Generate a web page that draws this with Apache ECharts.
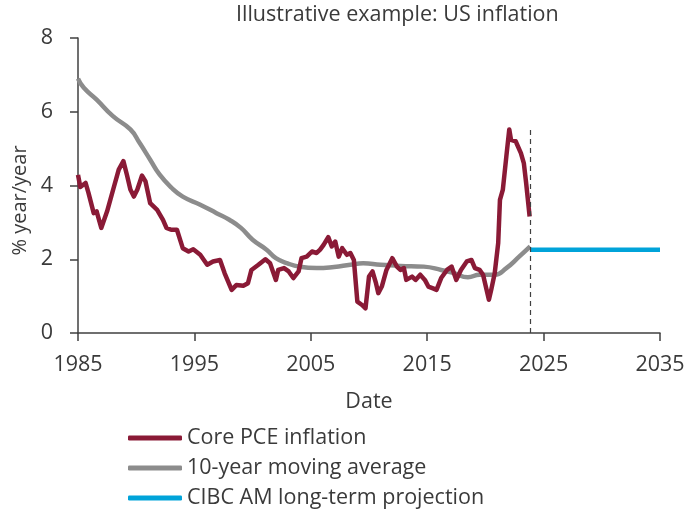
<!DOCTYPE html>
<html>
<head>
<meta charset="utf-8">
<script src="https://cdn.jsdelivr.net/npm/echarts@6/dist/echarts.min.js"></script>
<style>
html, body { margin: 0; padding: 0; background: #fff; }
#chart { width: 688px; height: 511px; }
</style>
</head>
<body>
<div id="chart"></div>
<script>
// core PCE, % year/year
var pceYears = [1985.0, 1985.2, 1985.65, 1985.9, 1986.35, 1986.6, 1987.0, 1987.5, 1988.1, 1988.5, 1988.9, 1989.2, 1989.5, 1989.8,
    1990.1, 1990.5, 1990.8, 1991.2, 1991.8, 1992.3, 1992.6, 1993.0, 1993.5, 1994.0, 1994.5, 1994.9, 1995.5, 1996.1, 1996.6,
    1997.2, 1997.6, 1998.2, 1998.6, 1999.2, 1999.6, 1999.9, 2000.5, 2001.1, 2001.5, 2002.0, 2002.2, 2002.7, 2003.1, 2003.5,
    2003.95, 2004.2, 2004.65, 2005.1, 2005.5, 2005.8, 2006.1, 2006.5, 2006.8, 2007.1, 2007.4, 2007.7, 2008.1, 2008.4, 2008.7,
    2009.0, 2009.4, 2009.7, 2010.0, 2010.3, 2010.6, 2010.8, 2011.1, 2011.5, 2012.0, 2012.4, 2012.7, 2013.0, 2013.2, 2013.7,
    2014.0, 2014.4, 2014.8, 2015.1, 2015.5, 2015.8, 2016.2, 2016.7, 2017.1, 2017.5, 2017.9, 2018.4, 2018.8, 2019.1, 2019.5,
    2019.8, 2020.1, 2020.3, 2020.5, 2020.8, 2021.1, 2021.25, 2021.5, 2021.8, 2022.05, 2022.2, 2022.6, 2023.05, 2023.3, 2023.5, 2023.8];
var pceValues = [4.29, 3.96, 4.07, 3.8, 3.25, 3.3, 2.85, 3.3, 3.98, 4.43, 4.66, 4.29, 3.89, 3.7,
    3.89, 4.27, 4.11, 3.52, 3.34, 3.07, 2.85, 2.8, 2.8, 2.3, 2.21, 2.27, 2.12, 1.85, 1.94,
    1.98, 1.62, 1.17, 1.3, 1.28, 1.35, 1.71, 1.85, 2.0, 1.89, 1.44, 1.71, 1.76, 1.67, 1.49,
    1.67, 2.03, 2.07, 2.21, 2.17, 2.26, 2.39, 2.6, 2.35, 2.48, 2.07, 2.3, 2.12, 2.17, 1.98,
    0.85, 0.76, 0.67, 1.53, 1.67, 1.35, 1.08, 1.26, 1.71, 2.03, 1.8, 1.71, 1.76, 1.44, 1.53,
    1.44, 1.58, 1.44, 1.26, 1.21, 1.17, 1.49, 1.71, 1.8, 1.44, 1.71, 1.94, 1.98, 1.76, 1.71,
    1.58, 1.17, 0.9, 1.17, 1.62, 2.44, 3.61, 3.89, 4.79, 5.52, 5.24, 5.2, 4.88, 4.61, 4.07, 3.16];

// 10年移动平均
var avgYears = [1985.0, 1985.5, 1986.6, 1988.0, 1989.5, 1990.3, 1991.2, 1992.0, 1993.0, 1994.0, 1995.5, 1996.9, 1998.0, 1999.0,
    2000.0, 2001.2, 2002.0, 2003.0, 2004.0, 2005.5, 2007.0, 2008.4, 2009.5, 2011.0, 2012.7, 2014.7, 2016.2, 2017.3, 2018.5,
    2019.5, 2020.8, 2021.8, 2022.9, 2023.85];
var avgValues = [6.9, 6.65, 6.33, 5.88, 5.52, 5.15, 4.7, 4.3, 3.95, 3.7, 3.48, 3.25, 3.07, 2.85,
    2.53, 2.26, 2.03, 1.89, 1.8, 1.76, 1.79, 1.85, 1.89, 1.85, 1.82, 1.8, 1.71, 1.62, 1.51,
    1.58, 1.58, 1.76, 2.07, 2.35];

// 长期预测
var projYears = [2023.85, 2035];
var projValues = [2.26, 2.26];
var projectionStart = 2023.85;
var dashTop = 5.6;

var xTicks = [1985, 1995, 2005, 2015, 2025, 2035];
var yTicks = [0, 2, 4, 6, 8];

function pairs(xs, ys) {
    var out = [];
    for (var i = 0; i < xs.length; i++) {
        out.push([xs[i], ys[i]]);
    }
    return out;
}

var font = 'Open Sans';
var textColor = '#3a3a3a';
var axisColor = '#404040';
var fs = 21.5;

var chart = echarts.init(document.getElementById('chart'));
var option = {
    animation: false,
    title: {
        text: 'Illustrative example: US inflation',
        left: 236,
        top: 4,
        padding: 0,
        textStyle: { fontFamily: font, fontSize: fs, fontWeight: 'normal', color: textColor }
    },
    grid: { left: 78, right: 28, top: 38, bottom: 178 },
    legend: {
        orient: 'vertical',
        left: 128,
        top: 426,
        height: 90,
        padding: 0,
        itemWidth: 54,
        itemHeight: 5,
        itemGap: 6,
        icon: 'roundRect',
        textStyle: { fontFamily: font, fontSize: fs, color: textColor, lineHeight: 24 },
        data: ['Core PCE inflation', '10-year moving average', 'CIBC AM long-term projection']
    },
    xAxis: {
        type: 'value',
        min: xTicks[0],
        max: xTicks[xTicks.length - 1],
        interval: 10,
        name: 'Date',
        nameLocation: 'middle',
        nameGap: 58,
        nameTextStyle: { fontFamily: font, fontSize: fs, color: textColor },
        axisLine: { lineStyle: { color: axisColor, width: 1.5 } },
        axisTick: { show: true, length: 8, lineStyle: { color: axisColor, width: 1.5 } },
        axisLabel: { fontFamily: font, fontSize: fs, color: textColor, margin: 21,
            formatter: function (v) { return String(v); } },
        splitLine: { show: false }
    },
    yAxis: {
        type: 'value',
        min: yTicks[0],
        max: yTicks[yTicks.length - 1],
        interval: 2,
        name: '% year/year',
        nameLocation: 'middle',
        nameGap: 46,
        nameTextStyle: { fontFamily: font, fontSize: 20, color: textColor, padding: [0, 30, 0, 0] },
        axisLine: { show: true, lineStyle: { color: axisColor, width: 1.5 } },
        axisTick: { show: true, length: 8, lineStyle: { color: axisColor, width: 1.5 } },
        axisLabel: { fontFamily: font, fontSize: fs, color: textColor, margin: 25 },
        splitLine: { show: false }
    },
    series: [
        {
            name: '10-year moving average',
            type: 'line',
            data: pairs(avgYears, avgValues),
            smooth: true,
            showSymbol: false,
            lineStyle: { color: '#8c8c8c', width: 4.5 },
            itemStyle: { color: '#8c8c8c' },
            z: 2
        },
        {
            name: 'Core PCE inflation',
            type: 'line',
            data: pairs(pceYears, pceValues),
            showSymbol: false,
            lineStyle: { color: '#8a1a36', width: 4.5, join: 'round' },
            itemStyle: { color: '#8a1a36' },
            z: 3
        },
        {
            name: 'CIBC AM long-term projection',
            type: 'line',
            data: pairs(projYears, projValues),
            showSymbol: false,
            lineStyle: { color: '#00a3d9', width: 4.5 },
            itemStyle: { color: '#00a3d9' },
            z: 3,
            markLine: {
                silent: true,
                symbol: 'none',
                label: { show: false },
                lineStyle: { color: '#404040', type: [5, 4], width: 1.2 },
                data: [[{ coord: [projectionStart, 0] }, { coord: [projectionStart, dashTop] }]]
            }
        }
    ]
};
chart.setOption(option);
window.onresize = chart.resize;
</script>
</body>
</html>
